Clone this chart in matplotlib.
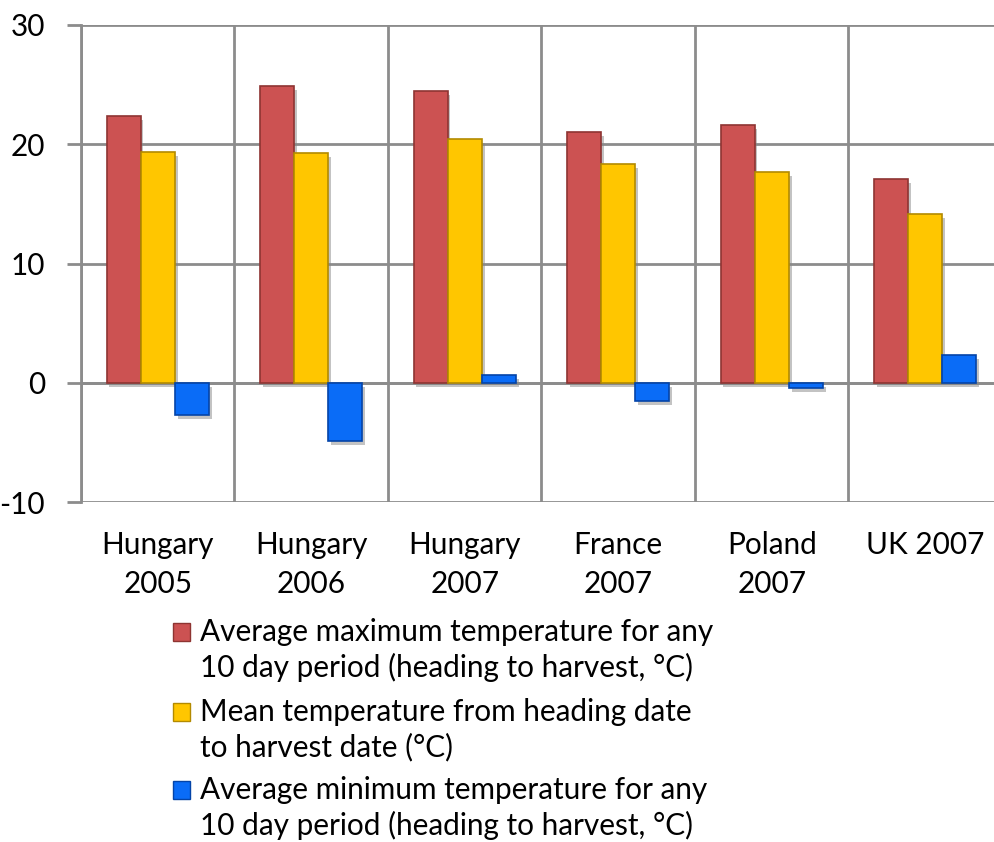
import numpy as np
import matplotlib
matplotlib.use("Agg")
import matplotlib.pyplot as plt
import matplotlib.patheffects as pe
from matplotlib.patches import Rectangle

categories = ["Hungary\n2005", "Hungary\n2006", "Hungary\n2007", "France\n2007", "Poland\n2007", "UK 2007"]
avg_max = [22.4, 24.9, 24.5, 21.0, 21.6, 17.1]
mean_temp = [19.35, 19.3, 20.45, 18.35, 17.7, 14.15]
avg_min = [-2.7, -4.9, 0.65, -1.5, -0.4, 2.35]
labels = ["Average maximum temperature for any\n10 day period (heading to harvest, °C)",
          "Mean temperature from heading date\nto harvest date (°C)",
          "Average minimum temperature for any\n10 day period (heading to harvest, °C)"]
colors = ["#CC5252", "#FFC600", "#0A6CF7"]
edges = ["#8E3432", "#B38A00", "#0444A8"]

plt.rcParams['font.family'] = ['Lato', 'DejaVu Sans']
plt.rcParams['axes.unicode_minus'] = False

W, H = 995, 842
fig = plt.figure(figsize=(W / 100, H / 100), dpi=100)
ax = fig.add_axes([81/W, 1-502/H, 921/W, 477/H])

x = np.arange(len(categories))
w = 0.222
shadow = [pe.SimplePatchShadow(offset=(2, -3), shadow_rgbFace="#888888", alpha=0.5), pe.Normal()]
for i, (vals, c, ec) in enumerate(zip([avg_max, mean_temp, avg_min], colors, edges)):
    bars = ax.bar(x + (i - 1) * w, vals, w, color=c, edgecolor=ec, linewidth=1.2, zorder=3)
    for b in bars:
        b.set_path_effects(shadow)

ax.set_xlim(-0.5, 5.5)
ax.set_ylim(-10, 30)
ax.set_yticks([-10, 0, 10, 20, 30])
ax.set_xticks(x)
ax.set_xticklabels(categories, fontsize=21.4, linespacing=1.45)
ax.set_xticks(np.arange(-0.5, 6, 1), minor=True)

grid_c = "#8C8C8C"
ax.grid(axis="y", which="major", color=grid_c, linewidth=2, zorder=0)
ax.grid(axis="x", which="minor", color=grid_c, linewidth=2, zorder=0)
ax.tick_params(axis="x", which="both", length=0, pad=21)
ax.tick_params(axis="y", length=10, width=2, color=grid_c, labelsize=21.4, pad=16)
for s in ["top", "right", "bottom"]:
    ax.spines[s].set_visible(False)
ax.spines["left"].set_color(grid_c)
ax.spines["left"].set_linewidth(2)
ax.axhline(0, color=grid_c, linewidth=2, zorder=1)

# legend drawn by hand so the marker sits beside the first line of each entry
first_line_y = [632, 712, 790]
for lab, c, ec, yy in zip(labels, colors, edges, first_line_y):
    fig.patches.append(Rectangle((173/W, 1-(yy+9)/H), 17/W, 18/H, transform=fig.transFigure,
                                 facecolor=c, edgecolor=ec, linewidth=1))
    fig.text(200/W, 1-(yy+18)/H, lab, fontsize=21.4, ha="left", va="center", linespacing=1.3)

fig.savefig("out.png", dpi=100)
